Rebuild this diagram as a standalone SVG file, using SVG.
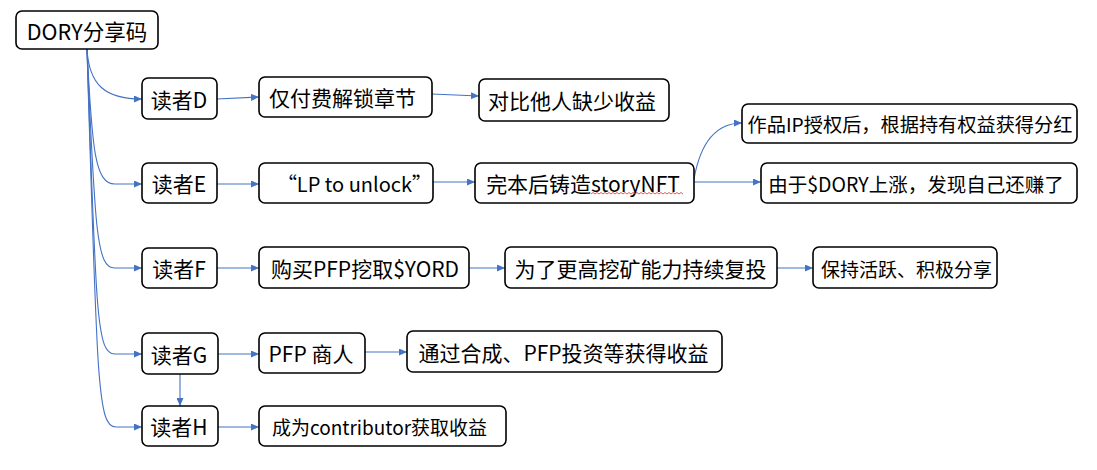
<svg xmlns="http://www.w3.org/2000/svg" width="1097" height="470" viewBox="0 0 1097 470">
<defs>
<marker id="arr" markerUnits="userSpaceOnUse" markerWidth="8" markerHeight="7" refX="8" refY="3.5" orient="auto">
<path d="M0,0 L8,3.5 L0,7 z" fill="#4472C4"/>
</marker>
<style>
.box{fill:#fff;stroke:#000;stroke-width:1.6}
.t{font-family:"Noto Sans CJK SC","Noto Sans",sans-serif;font-size:21px;fill:#000;text-anchor:middle;dominant-baseline:central}
.c{fill:none;stroke:#4472C4;stroke-width:1.1;marker-end:url(#arr)}
</style>
</defs>
<rect width="1097" height="470" fill="#fff"/>
<g id="connectors">
<path class="c" d="M87,49 C89,85 105,99 142,99"/>
<path class="c" d="M87,49 C92,150 95,184 115,184 L142,184"/>
<path class="c" d="M87,49 C95,235 97,268 115,268 L142,268"/>
<path class="c" d="M87,49 C96,320 97,354 115,354 L142,354"/>
<path class="c" d="M87,49 C97,390 98,427 116,427 L142,427"/>
<path class="c" d="M217,99 L259,97"/>
<path class="c" d="M432,94 L479,96"/>
<path class="c" d="M217,184 L259,184"/>
<path class="c" d="M433,182 L475,182"/>
<path class="c" d="M694,179 C700,145 714,123 742,123"/>
<path class="c" d="M694,182 L761,182"/>
<path class="c" d="M217,268 L259,268"/>
<path class="c" d="M469,268 L505,268"/>
<path class="c" d="M777,268 L813,268"/>
<path class="c" d="M218,354 L259,354"/>
<path class="c" d="M365,352 L407,352"/>
<path class="c" d="M180,374 L180,406"/>
<path class="c" d="M218,427 L259,427"/>
</g>
<g id="n-dory"><rect class="box" x="16" y="11" width="142" height="38" rx="6"/><text class="t" x="87" y="30" style="font-size:21.5px">DORY分享码</text></g>
<g id="n-readerD"><rect class="box" x="142" y="78" width="75" height="41" rx="6"/><text class="t" x="179" y="98.5">读者D</text></g>
<g id="n-d1"><rect class="box" x="259" y="77" width="173" height="40" rx="6"/><text class="t" x="342.5" y="97">仅付费解锁章节</text></g>
<g id="n-d2"><rect class="box" x="479" y="79" width="190" height="42" rx="6"/><text class="t" x="572" y="100">对比他人缺少收益</text></g>
<g id="n-readerE"><rect class="box" x="142" y="163" width="75" height="40" rx="6"/><text class="t" x="179" y="183">读者E</text></g>
<g id="n-e1"><rect class="box" x="259" y="163" width="174" height="40" rx="6"/><text class="t" x="354.5" y="183" style="font-size:20px">“LP to unlock”</text></g>
<g id="n-e2"><rect class="box" x="475" y="163" width="219" height="40" rx="6"/><text class="t" x="583" y="183">完本后铸造storyNFT</text><path d="M591,194 l2,-1.5 l2,1.5 l2,-1.5 l2,1.5 l2,-1.5 l2,1.5 l2,-1.5 l2,1.5 l2,-1.5 l2,1.5 l2,-1.5 l2,1.5 l2,-1.5 l2,1.5 l2,-1.5 l2,1.5 l2,-1.5 l2,1.5 l2,-1.5 l2,1.5 l2,-1.5 l2,1.5 l2,-1.5 l2,1.5 l2,-1.5 l2,1.5 l2,-1.5 l2,1.5 l2,-1.5 l2,1.5 l2,-1.5 l2,1.5 l2,-1.5 l2,1.5 l2,-1.5 l2,1.5 l2,-1.5 l2,1.5 l2,-1.5 l2,1.5 l2,-1.5 l2,1.5 l2,-1.5 l2,1.5 l2,-1.5 l2,1.5" fill="none" stroke="#e03030" stroke-width="0.8"/></g>
<g id="n-e3"><rect class="box" x="742" y="104" width="335" height="39" rx="6"/><text class="t" x="910" y="123.5" style="font-size:19.2px">作品IP授权后，根据持有权益获得分红</text></g>
<g id="n-e4"><rect class="box" x="761" y="163" width="316" height="40" rx="6"/><text class="t" x="916" y="183" style="font-size:19.5px">由于$DORY上涨，发现自己还赚了</text></g>
<g id="n-readerF"><rect class="box" x="142" y="248" width="75" height="40" rx="6"/><text class="t" x="179" y="268">读者F</text></g>
<g id="n-f1"><rect class="box" x="259" y="247" width="210" height="41" rx="6"/><text class="t" x="365" y="268">购买PFP挖取$YORD</text></g>
<g id="n-f2"><rect class="box" x="505" y="247" width="272" height="41" rx="6"/><text class="t" x="640.5" y="268">为了更高挖矿能力持续复投</text></g>
<g id="n-f3"><rect class="box" x="813" y="247" width="184" height="41" rx="6"/><text class="t" x="906.5" y="268" style="font-size:19px">保持活跃、积极分享</text></g>
<g id="n-readerG"><rect class="box" x="142" y="333" width="76" height="41" rx="6"/><text class="t" x="179" y="353.5">读者G</text></g>
<g id="n-g1"><rect class="box" x="259" y="333" width="106" height="40" rx="6"/><text class="t" x="311" y="353">PFP 商人</text></g>
<g id="n-g2"><rect class="box" x="407" y="331" width="315" height="41" rx="6"/><text class="t" x="563.5" y="351.5">通过合成、PFP投资等获得收益</text></g>
<g id="n-readerH"><rect class="box" x="142" y="406" width="76" height="40" rx="6"/><text class="t" x="179" y="426">读者H</text></g>
<g id="n-h1"><rect class="box" x="259" y="406" width="247" height="40" rx="6"/><text class="t" x="379.5" y="426" style="font-size:19px">成为contributor获取收益</text></g>
</svg>
